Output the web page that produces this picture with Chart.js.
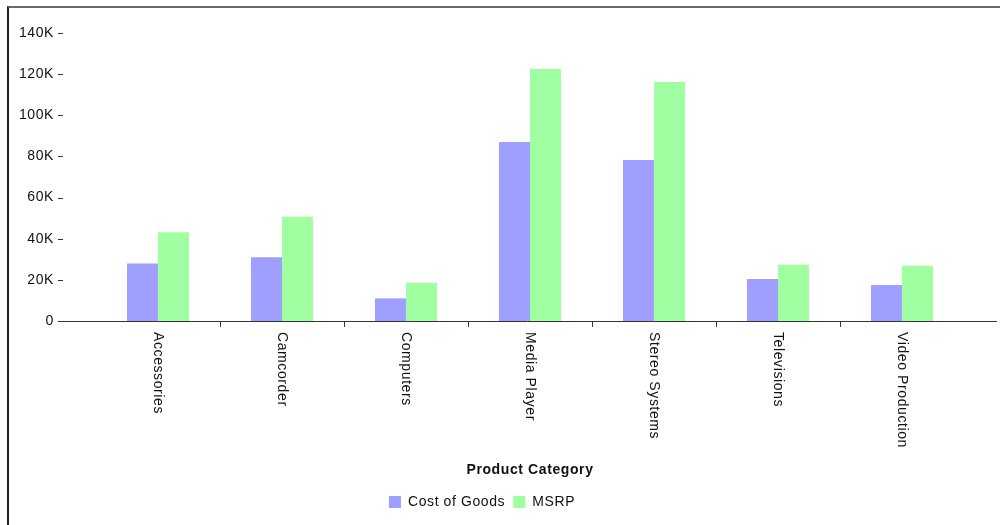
<!DOCTYPE html>
<html>
<head>
<meta charset="utf-8">
<script src="https://cdn.jsdelivr.net/npm/chart.js@4/dist/chart.umd.min.js"></script>
<style>
  html, body { margin: 0; padding: 0; background: #fff; }
  #wrap { position: relative; width: 1000px; height: 525px; overflow: hidden; }
  #frame { position: absolute; left: 7px; top: 6px; width: 993px; height: 519px;
           border-top: 2px solid #6a6a6a; border-left: 2px solid #222; box-sizing: border-box; }
  canvas { position: absolute; left: 0; top: 0; }
</style>
</head>
<body>
<div id="wrap">
  <div id="frame"></div>
  <canvas id="c" width="1000" height="525"></canvas>
</div>
<script>
const categories = ["Accessories", "Camcorder", "Computers", "Media Player", "Stereo Systems", "Televisions", "Video Production"];
const costOfGoods = [28000, 31000, 11000, 87000, 78300, 20400, 17500];
const msrp = [43100, 50700, 18600, 122500, 116200, 27400, 26900];
const seriesNames = ["Cost of Goods", "MSRP"];
const yTickValues = [0, 20000, 40000, 60000, 80000, 100000, 120000, 140000];
const xAxisTitle = "Product Category";

const FONT = "'Liberation Sans', Arial, sans-serif";
const TEXT = "#111";
const SPACING = '0.6px';

const spacingPlugin = {
  id: 'spacing',
  beforeUpdate(chart) { chart.ctx.letterSpacing = SPACING; },
  beforeLayout(chart) { chart.ctx.letterSpacing = SPACING; },
  beforeDraw(chart) { chart.ctx.letterSpacing = SPACING; }
};

const decorPlugin = {
  id: 'decor',
  afterDraw(chart) {
    const ctx = chart.ctx;
    const xs = chart.scales.x, ys = chart.scales.y;
    ctx.save();
    ctx.letterSpacing = SPACING;
    const lineLeft = ys.right - 38;
    ctx.strokeStyle = '#333';
    ctx.lineWidth = 1;
    ctx.beginPath();
    ctx.moveTo(lineLeft, Math.round(xs.top) + 0.5);
    ctx.lineTo(chart.width - 3, Math.round(xs.top) + 0.5);
    ctx.stroke();
    ys.ticks.forEach(t => {
      const y = Math.round(ys.getPixelForValue(t.value)) + 0.5;
      ctx.beginPath();
      ctx.moveTo(lineLeft, y);
      ctx.lineTo(lineLeft + 5, y);
      ctx.stroke();
    });
    ctx.fillStyle = TEXT;
    ctx.font = "14px " + FONT;
    ctx.textAlign = 'left';
    ctx.textBaseline = 'middle';
    categories.forEach((lab, i) => {
      const x = xs.getPixelForValue(i);
      ctx.save();
      ctx.translate(x, xs.top + 11);
      ctx.rotate(Math.PI / 2);
      ctx.fillText(lab, 0, 0);
      ctx.restore();
    });
    ctx.restore();
  }
};

new Chart(document.getElementById('c'), {
  type: 'bar',
  data: {
    labels: categories,
    datasets: [
      { label: seriesNames[0], data: costOfGoods, backgroundColor: '#9f9fff', borderWidth: 0,
        categoryPercentage: 0.5, barPercentage: 1.0 },
      { label: seriesNames[1], data: msrp, backgroundColor: '#a0ffa0', borderWidth: 0,
        categoryPercentage: 0.5, barPercentage: 1.0 }
    ]
  },
  options: {
    responsive: false,
    animation: false,
    devicePixelRatio: 1,
    layout: { padding: { top: 33, right: 36, bottom: 6, left: 0 } },
    plugins: {
      tooltip: { enabled: false },
      legend: {
        display: true,
        position: 'bottom',
        labels: {
          boxWidth: 12, boxHeight: 12, padding: 8,
          color: TEXT,
          font: { family: FONT, size: 14 }
        }
      }
    },
    scales: {
      x: {
        offset: true,
        grid: {
          display: true,
          drawOnChartArea: false,
          drawTicks: true,
          tickLength: 6,
          offset: true,
          color: (c) => (c.index === undefined || c.index <= 0 || c.index >= categories.length) ? 'rgba(0,0,0,0)' : '#333'
        },
        border: { display: false },
        ticks: { display: false },
        title: {
          display: true,
          text: xAxisTitle,
          color: TEXT,
          font: { family: FONT, size: 14, weight: 'bold' },
          padding: { top: 4, bottom: 8 }
        },
        afterFit(scale) { scale.height = 166; }
      },
      y: {
        min: 0,
        max: 140000,
        afterBuildTicks(scale) { scale.ticks = yTickValues.map(v => ({ value: v })); },
        grid: { display: false },
        border: { display: false },
        ticks: {
          padding: 34,
          color: TEXT,
          font: { family: FONT, size: 14 },
          callback: (v) => v === 0 ? '0' : (v / 1000) + 'K'
        },
        afterFit(scale) { scale.width = 96; scale.paddingTop = 0; scale.paddingBottom = 0; }
      }
    }
  },
  plugins: [spacingPlugin, decorPlugin]
});
</script>
</body>
</html>
